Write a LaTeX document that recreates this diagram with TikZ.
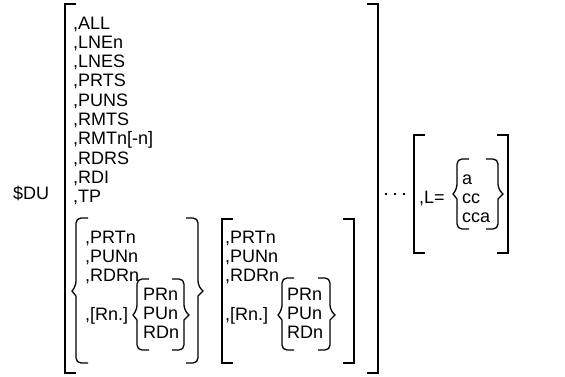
\documentclass[tikz,border=0pt]{standalone}
\usepackage{fontspec}
\setmainfont{Liberation Sans}
\usetikzlibrary{positioning}

% square and curly brackets: x, top, bottom (and tip height)
\newcommand\lsq[3]{\draw[brk] (#1+11,#2) -- (#1,#2) -- (#1,#3) -- (#1+11,#3);}
\newcommand\rsq[3]{\draw[brk] (#1-11,#2) -- (#1,#2) -- (#1,#3) -- (#1-11,#3);}
\newcommand\lcurl[4]{\draw[brk] (#1+12,#2) [rounded corners=5pt] -- (#1,#2) -- (#1,#4-5)
  [sharp corners] -- (#1-4,#4) -- (#1,#4+5) [rounded corners=5pt] -- (#1,#3) -- (#1+12,#3);}
\newcommand\rcurl[4]{\draw[brk] (#1-12,#2) [rounded corners=5pt] -- (#1,#2) -- (#1,#4-5)
  [sharp corners] -- (#1+5,#4) -- (#1,#4+5) [rounded corners=5pt] -- (#1,#3) -- (#1-12,#3);}

\begin{document}
\begin{tikzpicture}[
  x=1pt, y=-1pt,
  font=\fontsize{18}{19.3}\selectfont,
  brk/.style={line width=1.3pt, line join=miter},
  txt/.style={anchor=base west, inner sep=0pt, align=left},
]
\useasboundingbox (0,0) rectangle (565,377);
% command name and options (placed by the last line)
\node[txt] (du) at (13,199) {\$DU};
\node[txt] (opts) at (73,202.7) {,ALL\\,LNEn\\,LNES\\,PRTS\\,PUNS\\,RMTS\\,RMTn[-n]\\,RDRS\\,RDI\\,TP};
\lsq{65}{4}{373}
\rsq{378}{4}{373}

% first group (braces)
\node[txt] (grpa) at (85,281.6) {,PRTn\\,PUNn\\,RDRn};
\node[txt] (rna) at (85,320) {,[Rn.]};
\node[txt] (sela) at (143,338.6) {PRn\\PUn\\RDn};
\lcurl{76}{218}{363}{291}
\rcurl{198}{218}{363}{291}
\lcurl{137}{279}{350}{315}
\rcurl{184}{279}{350}{315}

% second group (square brackets)
\node[txt] (grpb) at (225,281.6) {,PRTn\\,PUNn\\,RDRn};
\node[txt] (rnb) at (225,320) {,[Rn.]};
\node[txt] (selb) at (287,338.6) {PRn\\PUn\\RDn};
\lsq{222}{219}{363}
\rsq{354}{219}{363}
\lcurl{282}{278}{350}{315}
\rcurl{330}{278}{350}{315}

% dots and L= choice
\foreach \dx in {386,395,404} \fill (\dx-1,193) rectangle (\dx+1,195);
\node[txt] (lab) at (419,203) {,L=};
\node[txt] (lset) at (462,222.6) {a\\cc\\cca};
\lsq{414}{135}{253}
\rsq{508}{135}{253}
\lcurl{457}{159}{229}{194}
\rcurl{498}{159}{229}{194}
\end{tikzpicture}
\end{document}
